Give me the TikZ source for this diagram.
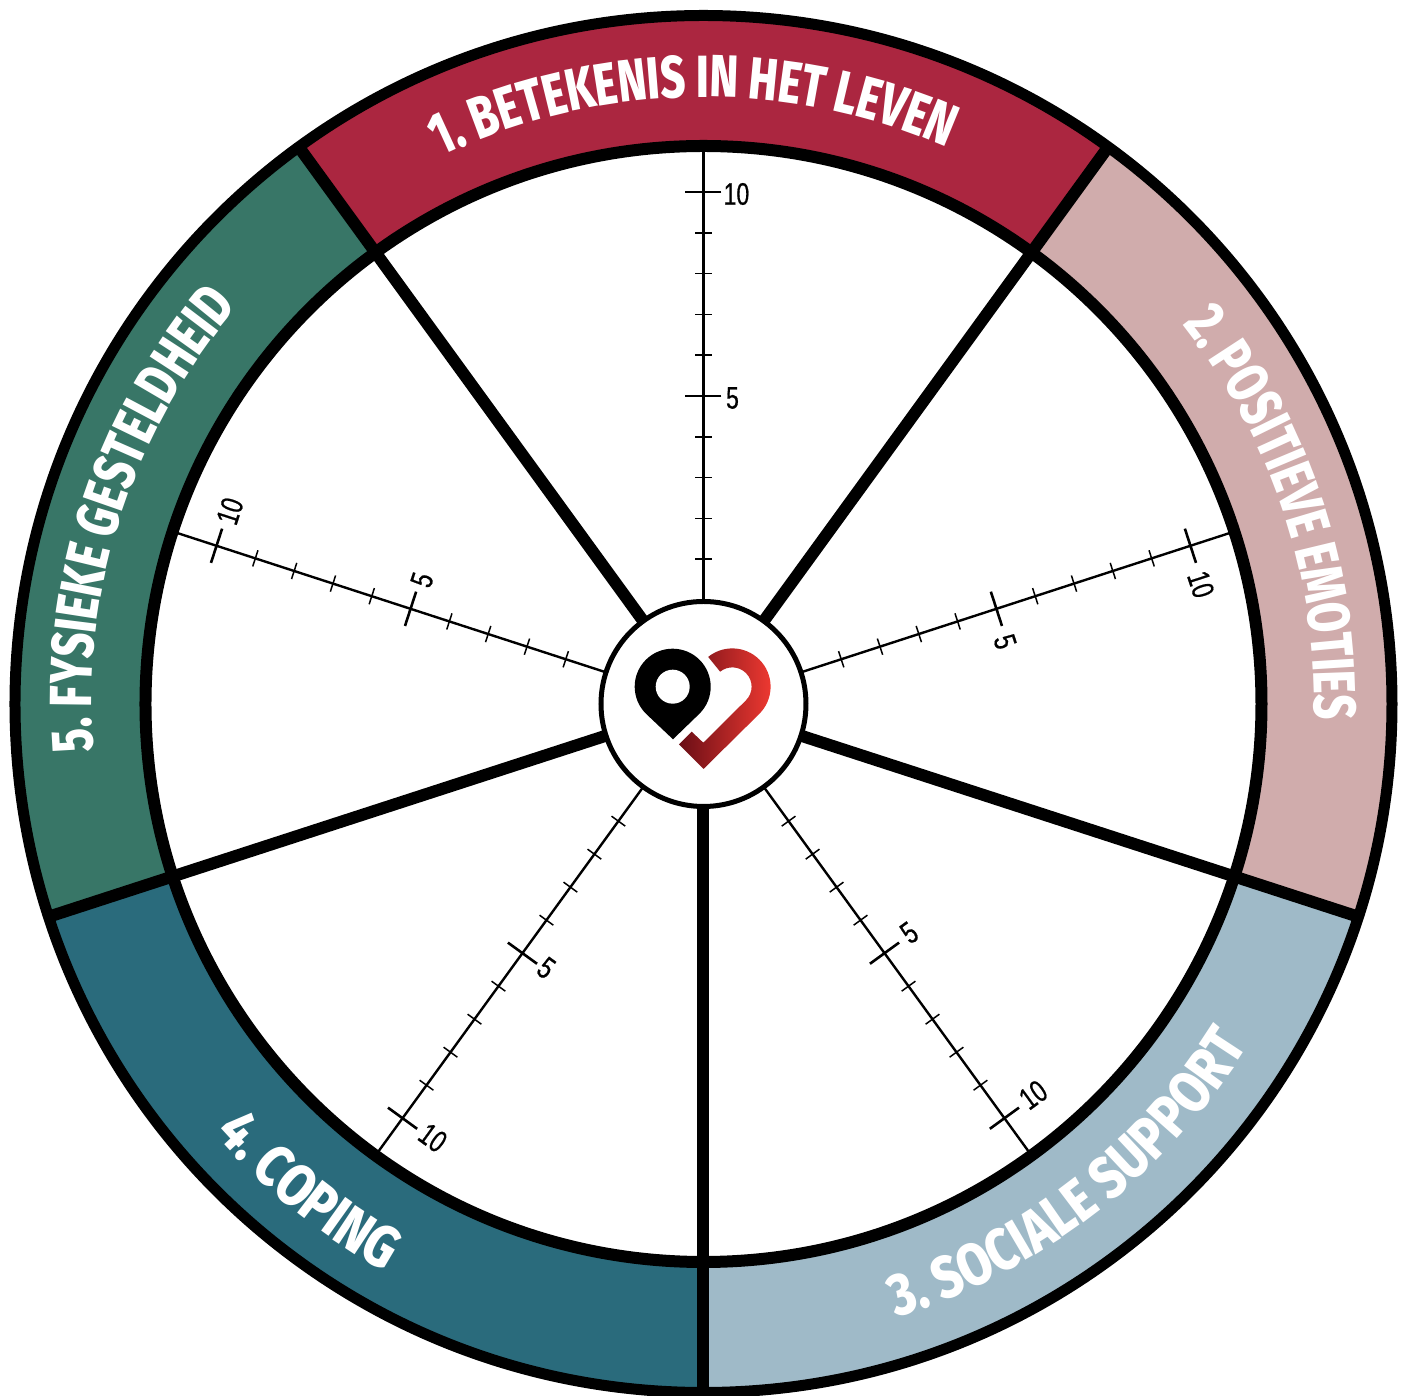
\documentclass[tikz,border=0pt]{standalone}
\usepackage{fontspec}
\usetikzlibrary{decorations.text,calc}
\newfontfamily\labfont[FakeStretch=0.73]{Fira Sans ExtraBold}
\newfontfamily\labwide[FakeStretch=0.82]{Fira Sans ExtraBold}
\newfontfamily\numfont[FakeStretch=0.74,FakeBold=0.6]{Liberation Sans}
\definecolor{cRed}{HTML}{AB2640}
\definecolor{cPink}{HTML}{D0ACAC}
\definecolor{cSky}{HTML}{9FBAC8}
\definecolor{cTeal}{HTML}{2A6B7C}
\definecolor{cGreen}{HTML}{387667}
\definecolor{cDark}{HTML}{6A0E16}
\definecolor{cBright}{HTML}{F23A32}
\tikzset{
  ring/.style={draw=black,line width=11pt},
  inring/.style={draw=black,line width=12pt},
  spoke/.style={draw=black,line width=12pt},
  axisline/.style={draw=black,line width=2.4pt},
  majortick/.style={draw=black,line width=2.6pt},
  minortick/.style={draw=black,line width=1.5pt},
  numlabel/.style={font=\numfont\fontsize{31}{31}\selectfont,inner sep=0pt,text=black},
  arclabel/.style={decorate,decoration={text along path,text align=center,
     text={|\labfont\fontsize{59.5}{59.5}\selectfont\color{white}|#1}}},
  arclabelwide/.style={decorate,decoration={text along path,text align=center,
     text={|\labwide\fontsize{59.5}{59.5}\selectfont\color{white}|#1}}}
}
\begin{document}
\begin{tikzpicture}[x=1pt,y=1pt]
\useasboundingbox (-703.5,-692) rectangle (705.5,704);
\fill[white] (-703.5,-692) rectangle (705.5,704);
% coloured sectors
\foreach \a/\b/\c in {54/126/cRed,-18/54/cPink,-90/-18/cSky,198/270/cTeal,126/198/cGreen}{
  \fill[\c] (\a:558) arc[start angle=\a,end angle=\b,radius=558] -- (\b:688)
     arc[start angle=\b,end angle=\a,radius=688] -- cycle;
}
% spokes
\foreach \a in {54,126,198,270,342}{
  \draw[spoke] (\a:100) -- (\a:688);
}
% rings
\draw[ring] (0,0) circle[radius=688.5];
\draw[inring] (0,0) circle[radius=558];
% axes
\foreach \t/\side/\rot/\fv/\tn in {90/1/0/29/33,18/1/-72/34/40,-54/-1/36/32/37,-126/-1/-36/28/36,162/1/72/31/37}{
  \begin{scope}[rotate=\t]
    \draw[axisline] (104,0) -- (553,0);
    \foreach \k in {1,2,3,4,6,7,8,9}{
      \draw[minortick] ({104+40.8*\k},-8.5) -- ({104+40.8*\k},8.5);
    }
    \foreach \k in {5,10}{
      \draw[majortick] ({104+40.8*\k},-18) -- ({104+40.8*\k},18);
    }
    \node[numlabel,rotate=\rot] (five\t) at (306,{-\side*\fv}) {5};
    \node[numlabel,rotate=\rot] (ten\t) at (510,{-\side*\tn}) {10};
  \end{scope}
}
% centre
\filldraw[fill=white,draw=black,line width=5pt] (0,0) circle[radius=102.5];
% logo: pin
\fill[black] (-30.5,-35.3) -- ($(-30.8,17.3)+(-45:38)$)
  arc[start angle=-45,end angle=225,radius=38] -- cycle;
\fill[white] (-30.8,17.3) circle[radius=17];
% logo: heart
\shade[left color=cDark,right color=cBright]
  ($(28.8,17.3)+(129:38.3)$) arc[start angle=129,end angle=-45,radius=38.3]
  -- (0,-65) -- (-24.5,-40.3) -- (-11.8,-27.7) -- (-0.2,-38.7)
  -- ($(28.8,17.3)+(-45:19.3)$) arc[start angle=-45,end angle=129,radius=19.3] -- cycle;
% labels
\path[arclabel={1. BETEKENIS IN HET LEVEN}] (131:607) arc[start angle=131,end angle=51,radius=607];
\path[arclabel={2. POSITIEVE EMOTIES}] (58.5:611) arc[start angle=58.5,end angle=-21.5,radius=611];
\path[arclabelwide={3. SOCIALE SUPPORT}] (-92.3:643) arc[start angle=-92.3,end angle=-12.3,radius=643];
\path[arclabelwide={4. COPING}] (-159:651) arc[start angle=-159,end angle=-99,radius=651];
\path[arclabel={5. FYSIEKE GESTELDHEID}] (202:612) arc[start angle=202,end angle=122,radius=612];
\end{tikzpicture}
\end{document}
